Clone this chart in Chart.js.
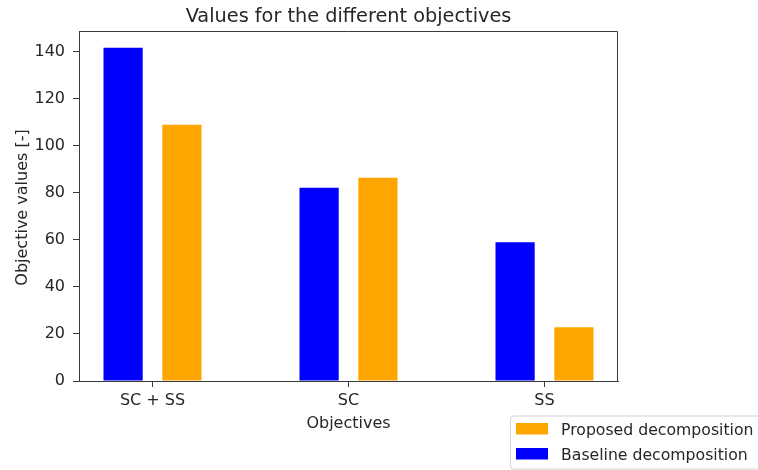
<!DOCTYPE html>
<html>
<head>
<meta charset="utf-8">
<title>Values for the different objectives</title>
<script src="https://cdn.jsdelivr.net/npm/chart.js@4/dist/chart.umd.min.js"></script>
<style>
  html, body { margin: 0; padding: 0; background: #fff; }
  #chart { display: block; }
</style>
</head>
<body>
<canvas id="chart" width="758" height="470"></canvas>
<script>
// Objective categories and the value of each decomposition
const categories = ['SC + SS', 'SC', 'SS'];
const baselineValues = [141.7, 82.2, 59.0];
const proposedValues = [108.9, 86.4, 22.8];
const yTickStep = 20;

const seriesLabels = ['Baseline decomposition', 'Proposed decomposition'];
const seriesColors = ['#0000ff', '#ffa500'];

const FONT = '"DejaVu Sans", "Liberation Sans", sans-serif';
const TEXT = '#262626';
const AXIS = '#3a3a3a';

const toPoints = vals => vals.map((v, i) => ({ x: i, y: v }));

// upper limit with 5% headroom above the tallest bar
const yMax = Math.max(...baselineValues, ...proposedValues) * 1.05;
const xPad = 0.375;

// frame, titles and the legend drawn on top of the chart
const decorations = {
  id: 'decorations',
  afterDraw(chart) {
    const { ctx, chartArea: a } = chart;
    ctx.save();
    // top and right spines
    ctx.strokeStyle = AXIS;
    ctx.lineWidth = 1;
    ctx.beginPath();
    ctx.moveTo(a.left, a.top + 0.5);
    ctx.lineTo(a.right - 0.5, a.top + 0.5);
    ctx.lineTo(a.right - 0.5, a.bottom);
    ctx.stroke();

    const cx = (a.left + a.right) / 2;
    ctx.fillStyle = TEXT;
    ctx.textAlign = 'center';
    ctx.textBaseline = 'alphabetic';
    ctx.font = '19.3px ' + FONT;
    ctx.fillText('Values for the different objectives', cx, 21.7);

    ctx.font = '16px ' + FONT;
    ctx.fillText('Objectives', cx, 428.3);

    ctx.save();
    ctx.translate(26.5, (a.top + a.bottom) / 2 + 1.5);
    ctx.rotate(-Math.PI / 2);
    ctx.fillText('Objective values [-]', 0, 0);
    ctx.restore();

    // legend box, listed in reverse dataset order
    const bx = 510.5, by = 416, bw = 262, bh = 53, r = 3;
    ctx.beginPath();
    ctx.roundRect(bx, by, bw, bh, r);
    ctx.fillStyle = 'rgba(255,255,255,0.8)';
    ctx.fill();
    ctx.strokeStyle = '#d3d3d3';
    ctx.lineWidth = 1;
    ctx.stroke();

    const items = chart.data.datasets.map(d => ({ label: d.label, color: d.backgroundColor })).reverse();
    ctx.font = '15.7px ' + FONT;
    ctx.textAlign = 'left';
    items.forEach((it, i) => {
      const rowY = 423 + i * 25;
      ctx.fillStyle = it.color;
      ctx.fillRect(516, rowY, 32, 11.5);
      ctx.fillStyle = TEXT;
      ctx.fillText(it.label, 561, rowY + 11.5);
    });
    ctx.restore();
  }
};

new Chart(document.getElementById('chart'), {
  type: 'bar',
  data: {
    datasets: [
      { label: seriesLabels[0], data: toPoints(baselineValues), backgroundColor: seriesColors[0], borderWidth: 0 },
      { label: seriesLabels[1], data: toPoints(proposedValues), backgroundColor: seriesColors[1], borderWidth: 0 }
    ]
  },
  options: {
    responsive: false,
    animation: false,
    devicePixelRatio: 1,
    categoryPercentage: 0.6,
    barPercentage: 2 / 3,
    layout: { padding: { top: 31, right: 140, left: 0, bottom: 0 } },
    plugins: { legend: { display: false }, title: { display: false }, tooltip: { enabled: false } },
    scales: {
      x: {
        type: 'linear',
        offset: false,
        min: -xPad,
        max: categories.length - 1 + xPad,
        afterFit: s => { s.height = 89; },
        grid: { offset: false, drawOnChartArea: false, drawTicks: true, tickLength: 6, color: AXIS, tickWidth: 1 },
        border: { display: true, color: AXIS, width: 1 },
        ticks: {
          stepSize: 1,
          includeBounds: false,
          autoSkip: false,
          maxRotation: 0,
          padding: 4,
          color: TEXT,
          font: { family: FONT, size: 16 },
          callback: v => (Number.isInteger(v) && categories[v] !== undefined) ? categories[v] : ''
        }
      },
      y: {
        min: 0,
        max: yMax,
        afterFit: s => { s.width = 79; },
        grid: { drawOnChartArea: false, drawTicks: true, tickLength: 6, color: AXIS, tickWidth: 1 },
        border: { display: true, color: AXIS, width: 1 },
        ticks: {
          stepSize: yTickStep,
          includeBounds: false,
          padding: 8,
          color: TEXT,
          font: { family: FONT, size: 16 }
        }
      }
    }
  },
  plugins: [decorations]
});
</script>
</body>
</html>
